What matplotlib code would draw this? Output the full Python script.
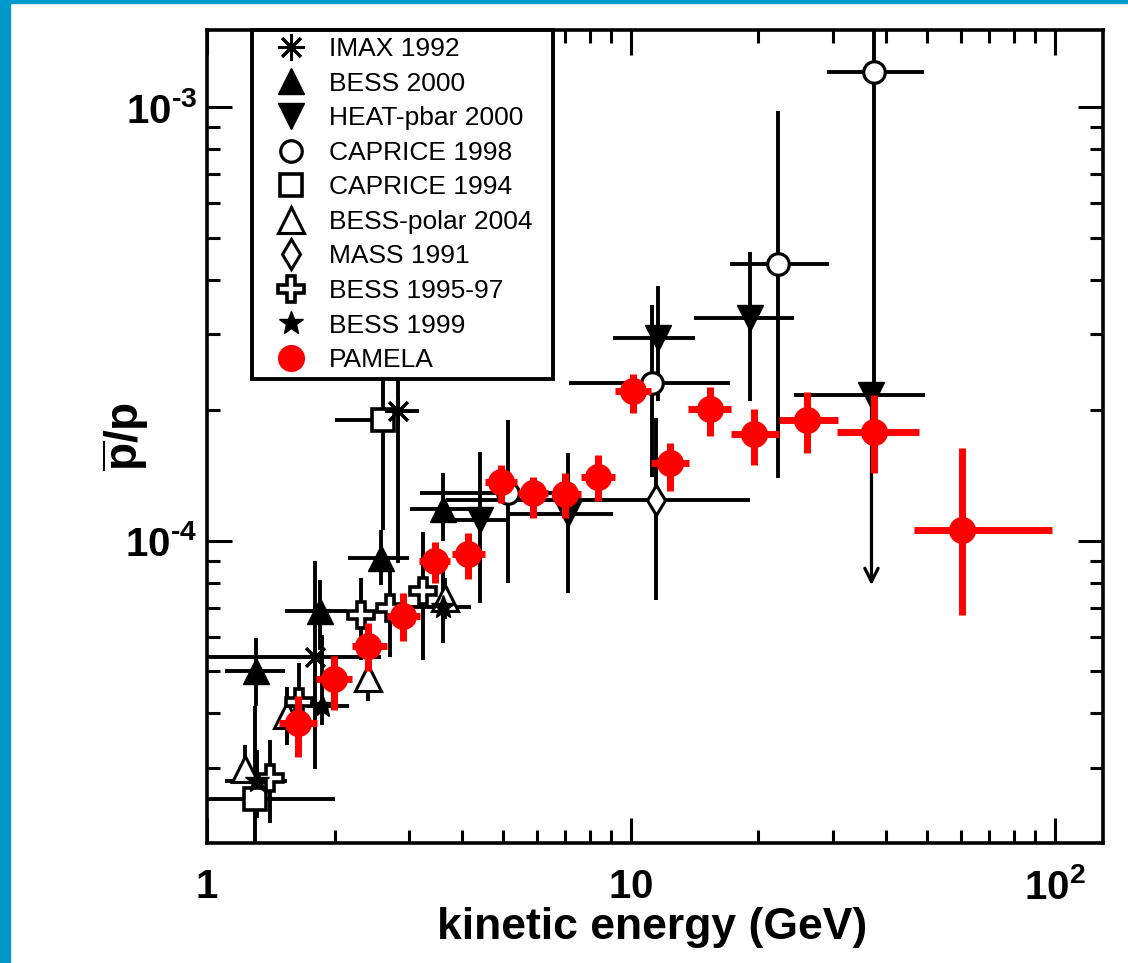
import matplotlib
matplotlib.use('Agg')
import matplotlib.pyplot as plt
import numpy as np
from matplotlib import font_manager, ticker
from matplotlib.lines import Line2D
from matplotlib.patches import Rectangle

# font selection (narrow bold for axis texts if available)
fonts = {f.name for f in font_manager.fontManager.ttflist}
NARROW = 'Liberation Sans Narrow' if 'Liberation Sans Narrow' in fonts else 'Liberation Sans'

plt.rcParams['font.family'] = ['Liberation Sans', 'DejaVu Sans']
plt.rcParams['mathtext.fontset'] = 'custom'
plt.rcParams['mathtext.rm'] = NARROW + ':bold'
plt.rcParams['mathtext.it'] = NARROW + ':bold'
plt.rcParams['mathtext.bf'] = NARROW + ':bold'
plt.rcParams['mathtext.default'] = 'rm'

# ---- data (x = kinetic energy GeV, y = pbar/p) ----
# PAMELA
pam_x = [1.64, 1.99, 2.40, 2.90, 3.45, 4.13, 4.93, 5.88, 6.99, 8.37, 10.09, 12.36, 15.36, 19.54, 25.97, 37.4, 60.4]
pam_xlo = [1.48, 1.81, 2.20, 2.66, 3.17, 3.78, 4.52, 5.42, 6.50, 7.63, 9.18, 11.15, 13.67, 17.22, 22.35, 30.7, 46.5]
pam_xhi = [1.82, 2.20, 2.66, 3.18, 3.74, 4.52, 5.38, 6.37, 7.63, 9.18, 11.15, 13.71, 17.26, 22.35, 30.87, 47.9, 98.6]
pam_y = [3.80e-5, 4.79e-5, 5.73e-5, 6.72e-5, 9.00e-5, 9.32e-5, 1.365e-4, 1.288e-4, 1.28e-4, 1.406e-4,
         2.21e-4, 1.51e-4, 2.01e-4, 1.762e-4, 1.90e-4, 1.786e-4, 1.06e-4]
pam_ylo = [3.18e-5, 4.08e-5, 5.00e-5, 5.86e-5, 7.99e-5, 8.17e-5, 1.22e-4, 1.128e-4, 1.128e-4, 1.233e-4,
           1.97e-4, 1.30e-4, 1.74e-4, 1.496e-4, 1.59e-4, 1.43e-4, 6.75e-5]
pam_yhi = [4.38e-5, 5.43e-5, 6.46e-5, 7.58e-5, 9.96e-5, 1.04e-4, 1.496e-4, 1.406e-4, 1.43e-4, 1.578e-4,
           2.43e-4, 1.684e-4, 2.26e-4, 2.01e-4, 2.20e-4, 2.17e-4, 1.637e-4]

# IMAX 1992
imax_x = [1.80, 2.83]
imax_xlo = [0.95, 2.65]
imax_xhi = [2.57, 3.17]
imax_y = [5.40e-5, 1.99e-4]
imax_ylo = [2.97e-5, 8.9e-5]
imax_yhi = [9.0e-5, 1.0e-3]

# BESS 2000
b00_x = [1.307, 1.845, 2.58, 3.61]
b00_xlo = [1.10, 1.53, 2.15, 3.01]
b00_xhi = [1.53, 2.14, 3.00, 4.17]
b00_y = [5.0e-5, 6.87e-5, 9.12e-5, 1.183e-4]
b00_ylo = [4.15e-5, 5.6e-5, 7.9e-5, 1.0e-4]
b00_yhi = [5.97e-5, 8.1e-5, 1.06e-4, 1.43e-4]

# HEAT-pbar 2000
heat_x = [4.40, 7.11, 11.6, 19.09]
heat_xlo = [3.74, 5.14, 9.08, 14.08]
heat_xhi = [5.14, 9.08, 14.16, 24.2]
heat_y = [1.118e-4, 1.154e-4, 2.93e-4, 3.26e-4]
heat_ylo = [7.19e-5, 7.58e-5, 2.095e-4, 2.095e-4]
heat_yhi = [1.606e-4, 1.59e-4, 3.87e-4, 4.64e-4]
# HEAT upper-limit point
heat_ul_x = 36.96
heat_ul_xlo = 24.2
heat_ul_xhi = 49.3
heat_ul_y = 2.17e-4
heat_ul_lim = 7.9e-5

# CAPRICE 1998
c98_x = [5.14, 11.19, 22.28, 37.4]
c98_xlo = [3.18, 7.15, 17.14, 29.0]
c98_xhi = [7.0, 17.12, 29.3, 49.1]
c98_y = [1.288e-4, 2.31e-4, 4.34e-4, 1.2035e-3]
c98_ylo = [8.0e-5, 1.406e-4, 1.394e-4, 2.2e-4]
c98_yhi = [1.90e-4, 3.50e-4, 9.79e-4, 2.0e-3]

# CAPRICE 1994
c94_x = [1.30, 2.60]
c94_xlo = [0.95, 2.0]
c94_xhi = [2.0, 2.75]
c94_y = [2.54e-5, 1.90e-4]
c94_ylo = [1.9e-5, 1.06e-4]
c94_yhi = [4.15e-5, 1.0e-3]

# BESS-polar 2004
pol_x = [1.23, 1.544, 2.40, 3.64]
pol_xlo = [1.20, 1.51, 2.35, 3.56]
pol_xhi = [1.26, 1.58, 2.45, 3.72]
pol_y = [2.97e-5, 3.97e-5, 4.83e-5, 7.38e-5]
pol_ylo = [2.82e-5, 3.39e-5, 4.27e-5, 6.6e-5]
pol_yhi = [3.39e-5, 4.6e-5, 5.6e-5, 8.2e-5]

# MASS 1991
mass_x = [11.45]
mass_xlo = [3.67]
mass_xhi = [19.09]
mass_y = [1.243e-4]
mass_ylo = [7.31e-5]
mass_yhi = [1.92e-4]

# BESS 1995-97
b95_x = [1.41, 1.645, 2.31, 2.70, 3.23]
b95_xlo = [1.37, 1.60, 2.25, 2.63, 3.15]
b95_xhi = [1.45, 1.69, 2.37, 2.77, 3.31]
b95_y = [2.84e-5, 4.26e-5, 6.75e-5, 7.0e-5, 7.64e-5]
b95_ylo = [2.24e-5, 3.39e-5, 5.3e-5, 5.4e-5, 5.3e-5]
b95_yhi = [3.48e-5, 5.23e-5, 8.2e-5, 8.6e-5, 1.05e-4]

# BESS 1999
b99_x = [1.31, 1.867, 3.61]
b99_xlo = [1.10, 1.72, 2.96]
b99_xhi = [1.545, 2.16, 4.2]
b99_y = [2.79e-5, 4.15e-5, 7.04e-5]
b99_ylo = [2.3e-5, 3.77e-5, 5.8e-5]
b99_yhi = [3.3e-5, 6.07e-5, 8.9e-5]

labels = ['IMAX 1992', 'BESS 2000', 'HEAT-pbar 2000', 'CAPRICE 1998', 'CAPRICE 1994',
          'BESS-polar 2004', 'MASS 1991', 'BESS 1995-97', 'BESS 1999', 'PAMELA']

# ---- marker styles ----
asterisk = (8, 2, 0)
styles = {
    'IMAX 1992': dict(marker=asterisk, ms=19, mec='k', mfc='k', mew=2),
    'BESS 2000': dict(marker='^', ms=18.5, mec='k', mfc='k', mew=1),
    'HEAT-pbar 2000': dict(marker='v', ms=18.5, mec='k', mfc='k', mew=1),
    'CAPRICE 1998': dict(marker='o', ms=15.5, mec='k', mfc='white', mew=2.3),
    'CAPRICE 1994': dict(marker='s', ms=15.5, mec='k', mfc='white', mew=2.6),
    'BESS-polar 2004': dict(marker='^', ms=19, mec='k', mfc='white', mew=2.2),
    'MASS 1991': dict(marker='d', ms=15, mec='k', mfc='white', mew=2.2),
    'BESS 1995-97': dict(marker='P', ms=19, mec='k', mfc='white', mew=2.6),
    'BESS 1999': dict(marker='*', ms=18, mec='k', mfc='k', mew=1),
    'PAMELA': dict(marker='o', ms=19.5, mec='#ff0000', mfc='#ff0000', mew=0),
}


def draw(ax, name, x, xlo, xhi, y, ylo, yhi, color='k', lw=2.8, z=2):
    x, xlo, xhi = np.array(x), np.array(xlo), np.array(xhi)
    y, ylo, yhi = np.array(y), np.array(ylo), np.array(yhi)
    ax.errorbar(x, y, xerr=[x - xlo, xhi - x], yerr=[y - ylo, yhi - y], fmt='none',
                ecolor=color, elinewidth=lw, capsize=0, zorder=z)
    ax.plot(x, y, ls='none', zorder=z + 0.5, **styles[name])


fig = plt.figure(figsize=(11.28, 9.63), dpi=100)
ax = fig.add_axes([207 / 1128, 1 - 843 / 963, 896 / 1128, 813 / 963])
ax.set_xscale('log')
ax.set_yscale('log')
ax.set_xlim(1, 130)
ax.set_ylim(2.01e-5, 1.505e-3)

draw(ax, 'CAPRICE 1998', c98_x, c98_xlo, c98_xhi, c98_y, c98_ylo, c98_yhi)
draw(ax, 'MASS 1991', mass_x, mass_xlo, mass_xhi, mass_y, mass_ylo, mass_yhi)
draw(ax, 'HEAT-pbar 2000', heat_x, heat_xlo, heat_xhi, heat_y, heat_ylo, heat_yhi)
# HEAT upper limit with arrow
ax.errorbar([heat_ul_x], [heat_ul_y], xerr=[[heat_ul_x - heat_ul_xlo], [heat_ul_xhi - heat_ul_x]],
            fmt='none', ecolor='k', elinewidth=2.8, capsize=0, zorder=2)
ax.annotate('', xy=(heat_ul_x, heat_ul_lim), xytext=(heat_ul_x, heat_ul_y),
            arrowprops=dict(arrowstyle='->', color='k', lw=2.3, mutation_scale=24,
                            shrinkA=0, shrinkB=0), zorder=2)
ax.plot([heat_ul_x], [heat_ul_y], ls='none', zorder=2.5, **styles['HEAT-pbar 2000'])
draw(ax, 'CAPRICE 1994', c94_x, c94_xlo, c94_xhi, c94_y, c94_ylo, c94_yhi)
draw(ax, 'IMAX 1992', imax_x, imax_xlo, imax_xhi, imax_y, imax_ylo, imax_yhi)
draw(ax, 'BESS 2000', b00_x, b00_xlo, b00_xhi, b00_y, b00_ylo, b00_yhi)
draw(ax, 'BESS-polar 2004', pol_x, pol_xlo, pol_xhi, pol_y, pol_ylo, pol_yhi)
draw(ax, 'BESS 1995-97', b95_x, b95_xlo, b95_xhi, b95_y, b95_ylo, b95_yhi)
draw(ax, 'BESS 1999', b99_x, b99_xlo, b99_xhi, b99_y, b99_ylo, b99_yhi)
draw(ax, 'PAMELA', pam_x, pam_xlo, pam_xhi, pam_y, pam_ylo, pam_yhi, color='#ff0000', lw=5.0, z=4)

# ---- axes styling ----
for sp in ax.spines.values():
    sp.set_linewidth(2.6)
ax.tick_params(which='both', direction='in', top=True, right=True, width=2.2)
ax.tick_params(which='major', length=18, labelsize=29)
ax.tick_params(axis='x', which='major', pad=18)
ax.tick_params(axis='y', which='major', pad=7)
ax.tick_params(which='minor', length=9.5)
ax.xaxis.set_major_locator(ticker.FixedLocator([1, 10, 100]))
ax.xaxis.set_major_formatter(ticker.FixedFormatter(['$1$', '$10$', '$10^{2}$']))
ax.yaxis.set_major_locator(ticker.FixedLocator([1e-4, 1e-3]))
ax.yaxis.set_major_formatter(ticker.FixedFormatter([r'$10^{\text{-}4}$', r'$10^{\text{-}3}$']))
ax.xaxis.set_minor_locator(ticker.LogLocator(base=10, subs=np.arange(2, 10), numticks=20))
ax.yaxis.set_minor_locator(ticker.LogLocator(base=10, subs=np.arange(2, 10), numticks=20))
ax.xaxis.set_minor_formatter(ticker.NullFormatter())
ax.yaxis.set_minor_formatter(ticker.NullFormatter())

ax.set_xlabel('kinetic energy (GeV)', fontfamily=NARROW, fontweight='bold', fontsize=32)
ax.xaxis.set_label_coords(0.497, -0.079)
ax.set_ylabel(r'$\overline{p}/p$', fontsize=33)
ax.yaxis.set_label_coords(-0.062, 0.5)

# ---- legend ----
handles = [Line2D([], [], ls='none', **styles[n]) for n in labels]
leg = ax.legend(handles, labels, loc='upper left', mode='expand',
                bbox_to_anchor=(0.05, 0.0, (553 - 252) / 896, 1.0), borderaxespad=0,
                frameon=True, fancybox=False, edgecolor='k', framealpha=1, fontsize=19,
                labelspacing=0.40, handlelength=2.4, handletextpad=0.25, borderpad=0.27)
leg.get_frame().set_linewidth(2.8)
leg.set_zorder(10)

# blue frame strips
fig.add_artist(Rectangle((0, 0), 10 / 1128, 1, transform=fig.transFigure, color='#0099cc', zorder=0))
fig.add_artist(Rectangle((0, 1 - 3 / 963), 1, 3 / 963, transform=fig.transFigure, color='#0099cc', zorder=0))

fig.savefig('out.png', dpi=100)
